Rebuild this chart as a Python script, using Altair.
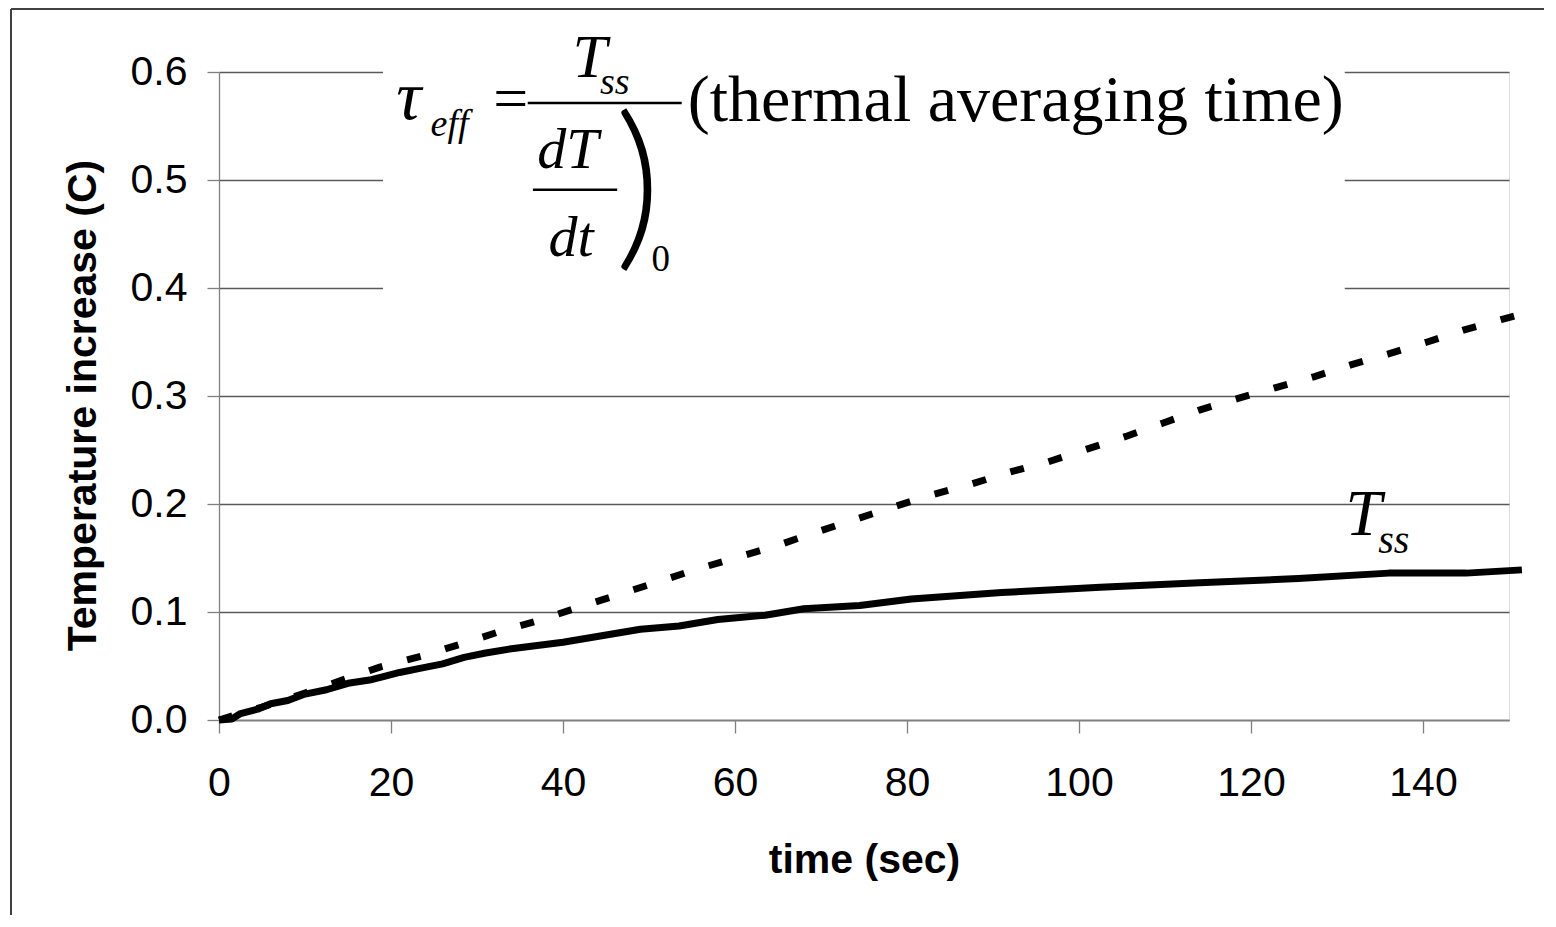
import altair as alt
import pandas as pd

# ---- data ----
time_solid = [0, 1.5, 2.5, 4.5, 6, 8, 10, 12.5, 15, 17.5, 19, 21, 23.5, 26, 28.5, 31, 34, 37, 40,
              44.5, 49, 53.5, 58, 63.5, 68, 74.5, 80.5, 91, 102.5, 114, 125.5, 136, 145, 151.5]
temp_solid = [0, 0.001, 0.006, 0.010, 0.015, 0.018, 0.024, 0.028, 0.034, 0.037, 0.040, 0.044, 0.048,
              0.052, 0.058, 0.062, 0.066, 0.069, 0.072, 0.078, 0.084, 0.087, 0.093, 0.097, 0.103,
              0.106, 0.112, 0.118, 0.123, 0.127, 0.131, 0.136, 0.136, 0.139]

time_dash = [0, 5, 10, 14, 18.7, 23.5, 28, 32.7, 37.1, 41.7, 46.4, 50.7, 55.3, 60, 64.7, 69.1, 73.7,
             78.3, 82.7, 87.3, 91.7, 96.4, 101, 105.6, 109.8, 114, 118.6, 123, 127.4, 131.7, 136,
             140.5, 144.7, 149.2, 151.5]
temp_dash = [0, 0.012, 0.025, 0.036, 0.049, 0.059, 0.070, 0.082, 0.092, 0.104, 0.116, 0.127, 0.139,
             0.150, 0.161, 0.173, 0.185, 0.197, 0.208, 0.218, 0.229, 0.239, 0.251, 0.263, 0.275,
             0.287, 0.298, 0.308, 0.318, 0.329, 0.339, 0.350, 0.361, 0.371, 0.376]

x_ticks = [0, 20, 40, 60, 80, 100, 120, 140]
y_ticks = [0.0, 0.1, 0.2, 0.3, 0.4, 0.5, 0.6]

# annotation texts (formula and curve label), placed in data coordinates
ital_text = ["\u03c4", "eff", "T", "ss", "dT", "dt", "T", "ss"]
ital_x = [20.6, 24.6, 41.1, 44.3, 37.0, 38.3, 131.0, 134.8]
ital_y = [0.5565, 0.541, 0.5954, 0.5796, 0.5112, 0.4299, 0.171, 0.1544]
ital_size = [70, 38, 62, 38, 58, 58, 65, 40]

rom_text = ["=", "0", "(thermal averaging time)"]
rom_x = [31.9, 50.3, 54.5]
rom_y = [0.5565, 0.416, 0.5547]
rom_size = [62, 37, 66]

paren_text = [")"]
paren_x = [46.0]
paren_y = [0.4382]
paren_size = [181]

frac_x = [35.9, 36.5]
frac_x2 = [53.8, 46.3]
frac_y = [0.5713, 0.4909]

box_x = [19.07]
box_x2 = [130.9]
box_y = [0.39]
box_y2 = [0.64]

SANS = "Liberation Sans, Arial, sans-serif"
SERIF = "Liberation Serif, Times New Roman, serif"

xscale = alt.Scale(domain=[0, 150], nice=False, zero=False)
yscale = alt.Scale(domain=[0, 0.6], nice=False, zero=False)

x_axis = alt.Axis(values=x_ticks, grid=False, tickSize=13, tickColor="#808080", tickWidth=1.3,
                  domainColor="#808080", domainWidth=1.3, labelFont=SANS, labelFontSize=41,
                  labelColor="black", labelBaseline="alphabetic", labelPadding=62, labelFlush=False,
                  titleFont=SANS, titleFontSize=41, titleFontWeight="bold", titleColor="black",
                  titleBaseline="alphabetic", titleY=152)
y_axis = alt.Axis(values=y_ticks, format=".1f", grid=True, gridColor="#5a5a5a", gridWidth=1.3,
                  tickSize=12, tickColor="#808080", tickWidth=1.3, domainColor="#808080",
                  domainWidth=1.3, labelFont=SANS, labelFontSize=41, labelColor="black",
                  labelPadding=20, labelFlush=False, titleFont=SANS, titleFontSize=41,
                  titleFontWeight="bold", titleColor="black", titleAngle=270,
                  titleBaseline="alphabetic", titleAlign="center", titleX=-124, titleY=333)

XT = "time (sec)"
YT = "Temperature increase (C)"


def X(f="t"):
    return alt.X(f"{f}:Q", scale=xscale, title=XT)


def Y(f="T"):
    return alt.Y(f"{f}:Q", scale=yscale, title=YT)


solid_df = pd.DataFrame({"t": time_solid, "T": temp_solid})
dash_df = pd.DataFrame({"t": time_dash, "T": temp_dash})

box = alt.Chart(pd.DataFrame({"t": box_x, "t2": box_x2, "T": box_y, "T2": box_y2})).mark_rect(
    fill="white").encode(
    x=alt.X("t:Q", scale=xscale, axis=x_axis, title=XT), x2="t2:Q",
    y=alt.Y("T:Q", scale=yscale, axis=y_axis, title=YT), y2="T2:Q")

solid = alt.Chart(solid_df).mark_line(color="black", strokeWidth=7, strokeJoin="round").encode(
    x=X(), y=Y())

dashed = alt.Chart(dash_df).mark_line(color="black", strokeWidth=7, strokeDash=[14, 25.5],
                                      strokeCap="butt").encode(x=X(), y=Y())

fracs = alt.Chart(pd.DataFrame({"t": frac_x, "t2": frac_x2, "T": frac_y})).mark_rule(
    color="black", strokeWidth=2.5).encode(x=X(), x2="t2:Q", y=Y())

ital = alt.Chart(pd.DataFrame({"t": ital_x, "T": ital_y, "txt": ital_text, "s": ital_size})).mark_text(
    font=SERIF, fontStyle="italic", align="left", baseline="alphabetic", color="black").encode(
    x=X(), y=Y(), text="txt:N", size=alt.Size("s:Q", scale=None, legend=None))

rom = alt.Chart(pd.DataFrame({"t": rom_x, "T": rom_y, "txt": rom_text, "s": rom_size})).mark_text(
    font=SERIF, align="left", baseline="alphabetic", color="black").encode(
    x=X(), y=Y(), text="txt:N", size=alt.Size("s:Q", scale=None, legend=None))

paren = alt.Chart(pd.DataFrame({"t": paren_x, "T": paren_y, "txt": paren_text, "s": paren_size})).mark_text(
    font="Lato", fontWeight=300, align="left", baseline="alphabetic", color="black").encode(
    x=X(), y=Y(), text="txt:N", size=alt.Size("s:Q", scale=None, legend=None))

one = pd.DataFrame({"a": [0]})
border_left = alt.Chart(one).mark_rule(color="#404040", strokeWidth=2).encode(
    x=alt.value(-208), y=alt.value(-63), y2=alt.value(900))
border_top = alt.Chart(one).mark_rule(color="#404040", strokeWidth=2).encode(
    x=alt.value(-208), x2=alt.value(1400), y=alt.value(-63))

chart = alt.layer(box, solid, dashed, fracs, ital, rom, paren, border_left, border_top).properties(
    width=1290, height=648,
    autosize=alt.AutoSizeParams(type="none"),
    padding={"left": 211, "top": 64, "right": 35, "bottom": 195},
).configure_view(stroke=None).configure(background="white")

chart.save("out.html", embed_options={"renderer": "svg", "actions": False})
